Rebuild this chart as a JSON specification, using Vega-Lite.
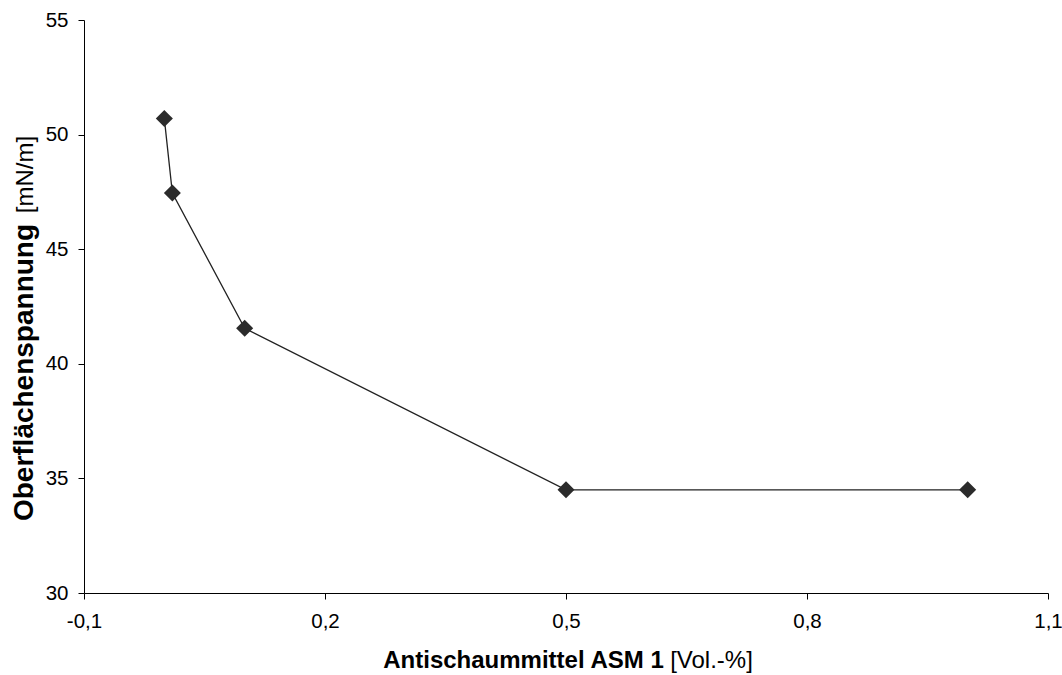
{
  "$schema": "https://vega.github.io/schema/vega-lite/v6.json",
  "width": 964,
  "height": 573,
  "autosize": {"type": "none"},
  "padding": {"left": 84, "top": 20, "right": 14, "bottom": 82},
  "background": "white",
  "config": {
    "view": {"stroke": null},
    "font": "Liberation Sans",
    "locale": {"number": {"decimal": ",", "thousands": ".", "grouping": [3], "currency": ["", " €"], "minus": "-"}},
    "axis": {
      "labelFont": "Liberation Sans",
      "titleFont": "Liberation Sans",
      "labelColor": "black",
      "titleColor": "black",
      "domainColor": "black",
      "tickColor": "black",
      "domainWidth": 1,
      "tickWidth": 1,
      "tickSize": 6,
      "grid": false
    }
  },
  "data": {
    "values": [
      {"asm": 0.0, "sigma": 50.7},
      {"asm": 0.01, "sigma": 47.45},
      {"asm": 0.1, "sigma": 41.55},
      {"asm": 0.5, "sigma": 34.5},
      {"asm": 1.0, "sigma": 34.5}
    ]
  },
  "layer": [
    {
      "mark": {"type": "line", "color": "#222222", "strokeWidth": 1.3},
      "encoding": {
        "x": {
          "field": "asm", "type": "quantitative",
          "scale": {"domain": [-0.1, 1.1], "nice": false, "zero": false},
          "axis": {
            "orient": "bottom",
            "values": [-0.1, 0.2, 0.5, 0.8, 1.1],
            "format": ".1f",
            "labelFontSize": 20.5,
            "labelPadding": 12,
            "labelFlush": false,
            "title": "Antischaummittel ASM 1",
            "titleFontSize": 24,
            "titleFontWeight": "bold",
            "titleAlign": "center",
            "titleBaseline": "alphabetic",
            "titleX": 439,
            "titleY": 74
          }
        },
        "y": {
          "field": "sigma", "type": "quantitative",
          "scale": {"domain": [30, 55], "nice": false, "zero": false},
          "axis": {
            "orient": "left",
            "values": [30, 35, 40, 45, 50, 55],
            "labelFontSize": 20.5,
            "labelPadding": 10,
            "labelFlush": false,
            "title": "Oberflächenspannung",
            "titleFontSize": 28,
            "titleFontWeight": "bold",
            "titleAngle": -90,
            "titleAlign": "center",
            "titleBaseline": "alphabetic",
            "titleX": -52,
            "titleY": 352
          }
        }
      }
    },
    {
      "mark": {"type": "point", "shape": "diamond", "filled": true, "size": 290, "color": "#2b2b2b", "opacity": 1},
      "encoding": {
        "x": {
          "field": "asm", "type": "quantitative",
          "axis": {
            "orient": "bottom",
            "domain": false, "ticks": false, "labels": false, "grid": false,
            "title": "[Vol.-%]",
            "titleFontSize": 24,
            "titleFontWeight": "normal",
            "titleAlign": "center",
            "titleBaseline": "alphabetic",
            "titleX": 627,
            "titleY": 74
          }
        },
        "y": {
          "field": "sigma", "type": "quantitative",
          "axis": {
            "orient": "left",
            "domain": false, "ticks": false, "labels": false, "grid": false,
            "title": "[mN/m]",
            "titleFontSize": 24,
            "titleFontWeight": "normal",
            "titleAngle": -90,
            "titleAlign": "center",
            "titleBaseline": "alphabetic",
            "titleX": -52,
            "titleY": 154
          }
        }
      }
    }
  ],
  "resolve": {"axis": {"x": "independent", "y": "independent"}}
}
